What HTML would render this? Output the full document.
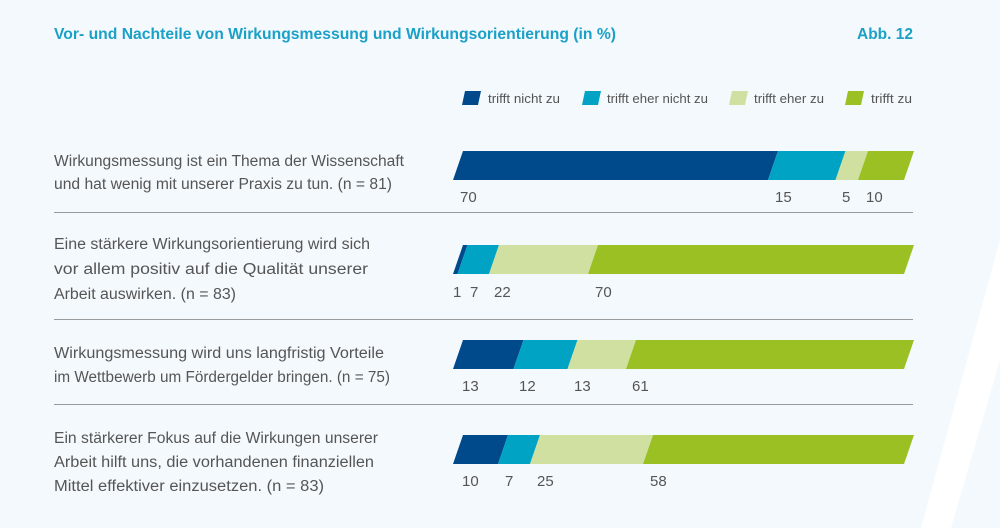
<!DOCTYPE html>
<html><head><meta charset="utf-8"><style>
html,body{margin:0;padding:0;background:#f4f9fd;}
svg{display:block;}
text{font-family:"Liberation Sans",sans-serif;}
</style></head><body>
<svg width="1000" height="528" viewBox="0 0 1000 528" xmlns="http://www.w3.org/2000/svg">
<rect width="1000" height="528" fill="#f4f9fd"/>
<polygon points="921,528 951,528 1000,360 1000,240" fill="#ffffff"/>
<text x="54" y="39" font-size="16" font-weight="bold" fill="#1ba0c8" textLength="562" lengthAdjust="spacingAndGlyphs">Vor- und Nachteile von Wirkungsmessung und Wirkungsorientierung (in %)</text>
<text x="857" y="39" font-size="16" font-weight="bold" fill="#1ba0c8" textLength="56" lengthAdjust="spacingAndGlyphs">Abb. 12</text>

<g font-size="13" fill="#555">
<polygon points="465,91 481,91 478,105 462,105" fill="#004a8c"/>
<text x="488" y="103" textLength="72" lengthAdjust="spacingAndGlyphs">trifft nicht zu</text>
<polygon points="585,91 601,91 598,105 582,105" fill="#00a3c4"/>
<text x="607" y="103" textLength="101" lengthAdjust="spacingAndGlyphs">trifft eher nicht zu</text>
<polygon points="732,91 748,91 745,105 729,105" fill="#cfe0a0"/>
<text x="754" y="103" textLength="70" lengthAdjust="spacingAndGlyphs">trifft eher zu</text>
<polygon points="848,91 864,91 861,105 845,105" fill="#9bc023"/>
<text x="871" y="103" textLength="41" lengthAdjust="spacingAndGlyphs">trifft zu</text>
</g>

<g font-size="15.5" fill="#555">
<text x="54" y="166" textLength="350" lengthAdjust="spacingAndGlyphs">Wirkungsmessung ist ein Thema der Wissenschaft</text>
<text x="54" y="189" textLength="338" lengthAdjust="spacingAndGlyphs">und hat wenig mit unserer Praxis zu tun. (n = 81)</text>
<text x="54" y="249" textLength="316" lengthAdjust="spacingAndGlyphs">Eine stärkere Wirkungsorientierung wird sich</text>
<text x="54" y="274" textLength="314" lengthAdjust="spacingAndGlyphs">vor allem positiv auf die Qualität unserer</text>
<text x="54" y="299" textLength="182" lengthAdjust="spacingAndGlyphs">Arbeit auswirken. (n = 83)</text>
<text x="54" y="358" textLength="330" lengthAdjust="spacingAndGlyphs">Wirkungsmessung wird uns langfristig Vorteile</text>
<text x="54" y="382" textLength="336" lengthAdjust="spacingAndGlyphs">im Wettbewerb um Fördergelder bringen. (n = 75)</text>
<text x="54" y="443" textLength="324" lengthAdjust="spacingAndGlyphs">Ein stärkerer Fokus auf die Wirkungen unserer</text>
<text x="54" y="467" textLength="320" lengthAdjust="spacingAndGlyphs">Arbeit hilft uns, die vorhandenen finanziellen</text>
<text x="54" y="491" textLength="270" lengthAdjust="spacingAndGlyphs">Mittel effektiver einzusetzen. (n = 83)</text>
</g>

<g stroke="#9a9a9a" stroke-width="1">
<line x1="54" y1="212.5" x2="913" y2="212.5"/>
<line x1="54" y1="319.5" x2="913" y2="319.5"/>
<line x1="54" y1="404.5" x2="913" y2="404.5"/>
</g>

<!-- Row 1: 70 15 5 10 -->
<polygon points="463,151 778,151 768,180 453,180" fill="#004a8c"/>
<polygon points="778,151 845.5,151 835.5,180 768,180" fill="#00a3c4"/>
<polygon points="845.5,151 868,151 858,180 835.5,180" fill="#cfe0a0"/>
<polygon points="868,151 914,151 904,180 858,180" fill="#9bc023"/>
<!-- Row 2: 1 7 22 70 -->
<polygon points="463,245 467.5,245 457.5,274 453,274" fill="#004a8c"/>
<polygon points="467.5,245 499,245 489,274 457.5,274" fill="#00a3c4"/>
<polygon points="499,245 598,245 588,274 489,274" fill="#cfe0a0"/>
<polygon points="598,245 914,245 904,274 588,274" fill="#9bc023"/>
<!-- Row 3: 13 12 13 61 -->
<polygon points="463,340 523.5,340 513.5,369 453,369" fill="#004a8c"/>
<polygon points="523.5,340 577.5,340 567.5,369 513.5,369" fill="#00a3c4"/>
<polygon points="577.5,340 636,340 626,369 567.5,369" fill="#cfe0a0"/>
<polygon points="636,340 914,340 904,369 626,369" fill="#9bc023"/>
<!-- Row 4: 10 7 25 58 -->
<polygon points="463,435 508,435 498,464 453,464" fill="#004a8c"/>
<polygon points="508,435 540,435 530,464 498,464" fill="#00a3c4"/>
<polygon points="540,435 653,435 643,464 530,464" fill="#cfe0a0"/>
<polygon points="653,435 914,435 904,464 643,464" fill="#9bc023"/>

<g font-size="15" fill="#555">
<text x="460" y="202">70</text><text x="775" y="202">15</text><text x="842" y="202">5</text><text x="866" y="202">10</text>
<text x="453" y="297">1</text><text x="470" y="297">7</text><text x="494" y="297">22</text><text x="595" y="297">70</text>
<text x="462" y="391">13</text><text x="519" y="391">12</text><text x="574" y="391">13</text><text x="632" y="391">61</text>
<text x="462" y="486">10</text><text x="505" y="486">7</text><text x="537" y="486">25</text><text x="650" y="486">58</text>
</g>
</svg>
</body></html>
